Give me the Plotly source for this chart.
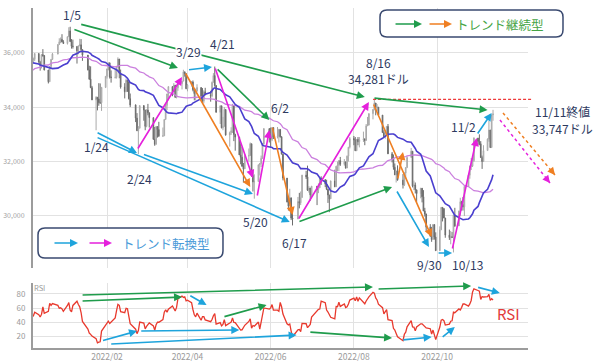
import pandas as pd
import plotly.graph_objects as go
from plotly.subplots import make_subplots

# ---------------------------------------------------------------------------
# NYダウ 日足（2021/9末〜2022/11/11）
# ---------------------------------------------------------------------------
HOLIDAYS = ["2021-11-25", "2021-12-24", "2022-01-17", "2022-02-21", "2022-04-15",
            "2022-05-30", "2022-06-20", "2022-07-04", "2022-09-05"]

# closes only (used to warm up the moving averages / RSI)
close_2021_09 = [34869, 34299, 34390, 33844]
close_2021_10 = [34326, 34002, 34315, 34417, 34755, 34746, 34497, 34378, 34377, 34912, 35295,
                 35259, 35458, 35609, 35603, 35677, 35741, 35757, 35491, 35731, 35820]
close_2021_11 = [35913, 36053, 36158, 36124, 36328, 36432, 36320, 36080, 35921, 36100, 36087,
                 36142, 35931, 35871, 35602, 35619, 35814, 35805, 34899, 35136, 34484]

close_2021_12 = [34022, 34640, 34580, 35227, 35719, 35754, 35754, 35971, 35650, 35544, 35927,
                 35898, 35365, 34932, 35492, 35754, 35950, 36302, 36398, 36488, 36398, 36338]
high_2021_12 = [35200, 34700, 34900, 35250, 35750, 35800, 35820, 35980, 35960, 35700, 35950,
                36130, 35820, 35300, 35500, 35760, 35990, 36310, 36530, 36560, 36680, 36460]
low_2021_12 = [34000, 33950, 34230, 34550, 35230, 35600, 35650, 35690, 35640, 35340, 35420,
               35850, 35350, 34870, 34950, 35440, 35740, 35940, 36280, 36350, 36380, 36320]

close_2022_01 = [36585, 36799, 36407, 36236, 36231, 36068, 36252, 36290, 36113, 35912,
                 35368, 35029, 34715, 34265, 34364, 34297, 34168, 34160, 34725, 35131]
high_2022_01 = [36600, 36934, 36952, 36500, 36480, 36180, 36260, 36510, 36500, 36000,
                35800, 35520, 35500, 34780, 34400, 34350, 34880, 34870, 34740, 35140]
low_2022_01 = [36300, 36590, 36400, 36150, 36150, 35600, 35940, 36240, 36050, 35700,
               35350, 35000, 34700, 34260, 33150, 33880, 34050, 34120, 33860, 34700]

close_2022_02 = [35405, 35629, 35111, 35089, 35091, 35463, 35768, 35241, 34738, 34566,
                 34988, 34934, 34312, 34079, 33596, 33131, 33223, 34058, 33892]
high_2022_02 = [35410, 35630, 35500, 35350, 35370, 35500, 35830, 35650, 35380, 34880,
                35050, 34940, 34800, 34500, 34100, 33780, 33300, 34060, 34000]
low_2022_02 = [35050, 35350, 35050, 34900, 35050, 35050, 35590, 35060, 34680, 34320,
               34640, 34560, 34280, 34000, 33450, 33120, 32272, 33270, 33500]

close_2022_03 = [33294, 33891, 33794, 33614, 32817, 32632, 33286, 33174, 32944, 32945, 33544,
                 34063, 34481, 34754, 34552, 34807, 34358, 34707, 34861, 34955, 35294, 35228, 34678]
high_2022_03 = [33900, 33920, 34120, 33700, 33620, 33270, 33300, 33260, 33460, 33250, 33560,
                34110, 34490, 34760, 34760, 34880, 34730, 34710, 34880, 34960, 35372, 35310, 35240]
low_2022_03 = [33150, 33260, 33700, 33250, 32800, 32578, 32840, 32880, 32900, 32900, 33000,
               33560, 33890, 34250, 34400, 34560, 34350, 34320, 34600, 34650, 35000, 35120, 34660]

close_2022_04 = [34818, 34921, 34641, 34496, 34583, 34721, 34308, 34220, 34564, 34451,
                 34412, 34911, 35160, 34793, 33811, 34049, 33240, 33301, 33916, 32977]
high_2022_04 = [34850, 34960, 34980, 34590, 34680, 34840, 34700, 34700, 34620, 34710,
                34600, 34940, 35250, 35492, 34800, 34060, 33950, 33640, 34000, 33800]
low_2022_04 = [34580, 34750, 34580, 34250, 34250, 34580, 34260, 34150, 34140, 34440,
               34200, 34360, 34970, 34750, 33800, 33380, 33220, 33150, 33280, 32950]

close_2022_05 = [33061, 33128, 34061, 32997, 32899, 32245, 32160, 31834, 31730, 32197, 32223,
                 32655, 31490, 31253, 31262, 31880, 31928, 32120, 32637, 33213, 32990]
high_2022_05 = [33100, 33260, 34120, 33950, 33020, 32850, 32670, 32540, 31950, 32280, 32480,
                32700, 32540, 31640, 31530, 31890, 31950, 32220, 32680, 33215, 33160]
low_2022_05 = [32550, 32980, 33050, 32750, 32400, 32240, 31900, 31800, 31230, 31800, 32000,
               32400, 31440, 30900, 30636, 31300, 31490, 31800, 32100, 32650, 32700]

close_2022_06 = [32813, 33248, 32900, 32916, 33180, 32910, 32272, 31393, 30517, 30365, 30668,
                 29927, 29888, 30530, 30483, 30677, 31500, 31438, 30947, 31029, 30775]
high_2022_06 = [33250, 33250, 33140, 33270, 33200, 33190, 32930, 32200, 31100, 30700, 31000,
                30300, 30140, 30700, 30850, 30900, 31510, 31660, 31850, 31100, 30950]
low_2022_06 = [32500, 32750, 32830, 32850, 32700, 32880, 32270, 31310, 30500, 30200, 30380,
               29850, 29653, 30140, 30280, 30400, 30740, 31360, 30920, 30860, 30560]

close_2022_07 = [31097, 30968, 31037, 31385, 31338, 31174, 30982, 30773, 30630, 31288,
                 31073, 31827, 31875, 32036, 31899, 31990, 31762, 32198, 32529, 32845]
high_2022_07 = [31100, 31100, 31200, 31420, 31460, 31270, 31330, 30900, 30700, 31300,
                31700, 31830, 32000, 32040, 32170, 32090, 31990, 32220, 32530, 32900]
low_2022_07 = [30700, 30400, 30840, 31030, 31140, 31060, 30950, 30480, 30140, 30770,
               31060, 31230, 31650, 31650, 31840, 31850, 31740, 31800, 32000, 32480]

close_2022_08 = [32798, 32397, 32813, 32727, 32803, 32833, 32775, 33310, 33337, 33761, 33913, 34152,
                 33981, 33999, 33707, 33064, 32910, 32970, 33292, 32283, 32099, 31791, 31510]
high_2022_08 = [32940, 32900, 32830, 32900, 32900, 33100, 32850, 33380, 33640, 33770, 33920, 34281,
                34050, 34110, 33950, 33600, 33150, 33150, 33300, 33380, 32350, 32260, 31930]
low_2022_08 = [32600, 32390, 32390, 32600, 32520, 32720, 32600, 33040, 33320, 33380, 33550, 33880,
               33700, 33860, 33660, 33060, 32890, 32840, 32980, 32280, 31970, 31700, 31510]

close_2022_09 = [31656, 31318, 31145, 31581, 31775, 32152, 32381, 31105, 31135, 30962, 30822,
                 31020, 30706, 30184, 30077, 29590, 29260, 29135, 29684, 29226, 28726]
high_2022_09 = [31660, 31860, 31540, 31600, 31800, 32190, 32500, 31910, 31300, 31230, 30900,
                31030, 30900, 30950, 30300, 29950, 29700, 29600, 29700, 29630, 29400]
low_2022_09 = [31230, 31300, 31010, 31100, 31380, 31800, 32150, 31050, 30950, 30830, 30500,
               30650, 30500, 30180, 29980, 29440, 29240, 29050, 29150, 29130, 28715]

close_2022_10 = [29490, 30317, 30274, 29927, 29297, 29203, 29239, 29211, 30039, 29635, 30186,
                 30524, 30424, 30334, 31083, 31500, 31837, 31839, 32034, 32862, 32733]
high_2022_10 = [29620, 30320, 30300, 30200, 29800, 29500, 29450, 29410, 30040, 30300, 30190,
                30670, 30560, 30700, 31120, 31510, 31840, 32130, 32190, 32890, 32870]
low_2022_10 = [28900, 29700, 29800, 29920, 29200, 29120, 28960, 29200, 28661, 29600, 29730,
               30010, 30200, 30200, 30000, 31080, 31370, 31690, 31800, 31990, 32600]

close_2022_11 = [32653, 32148, 32001, 32403, 32827, 33160, 32514, 33716, 33747]
high_2022_11 = [33000, 32750, 32220, 32600, 32850, 33500, 33100, 33720, 33900]
low_2022_11 = [32600, 32140, 31730, 32000, 32420, 32730, 32500, 32790, 33500]

HIGHLIGHT_PRICE = 34281      # 8/16 高値
LAST_CLOSE = 33747           # 11/11 終値

MONTH_TICKS = ["2022-02-01", "2022-04-01", "2022-06-01", "2022-08-01", "2022-10-01"]
X_RANGE = ["2021-12-08 18:00", "2022-12-06 15:30"]
Y_RANGE = [28089, 37642]
RSI_RANGE = [2.9, 95.7]


def sessions(start, end):
    return pd.bdate_range(start, end, freq="C", holidays=HOLIDAYS)


warmup = [
    ("2021-09-27", "2021-09-30", close_2021_09),
    ("2021-10-01", "2021-10-31", close_2021_10),
    ("2021-11-01", "2021-11-30", close_2021_11),
]
months = [
    ("2021-12-01", "2021-12-31", close_2021_12, high_2021_12, low_2021_12),
    ("2022-01-01", "2022-01-31", close_2022_01, high_2022_01, low_2022_01),
    ("2022-02-01", "2022-02-28", close_2022_02, high_2022_02, low_2022_02),
    ("2022-03-01", "2022-03-31", close_2022_03, high_2022_03, low_2022_03),
    ("2022-04-01", "2022-04-30", close_2022_04, high_2022_04, low_2022_04),
    ("2022-05-01", "2022-05-31", close_2022_05, high_2022_05, low_2022_05),
    ("2022-06-01", "2022-06-30", close_2022_06, high_2022_06, low_2022_06),
    ("2022-07-01", "2022-07-31", close_2022_07, high_2022_07, low_2022_07),
    ("2022-08-01", "2022-08-31", close_2022_08, high_2022_08, low_2022_08),
    ("2022-09-01", "2022-09-30", close_2022_09, high_2022_09, low_2022_09),
    ("2022-10-01", "2022-10-31", close_2022_10, high_2022_10, low_2022_10),
    ("2022-11-01", "2022-11-11", close_2022_11, high_2022_11, low_2022_11),
]

all_dates, all_close = [], []
for start, end, c in warmup:
    d = sessions(start, end)
    assert len(d) == len(c), (start, len(d), len(c))
    all_dates += list(d)
    all_close += c
n_warm = len(all_close)

cd_high, cd_low = [], []
for start, end, c, h, l in months:
    d = sessions(start, end)
    assert len(d) == len(c) == len(h) == len(l), (start, len(d), len(c), len(h), len(l))
    all_dates += list(d)
    all_close += c
    cd_high += h
    cd_low += l

closes = pd.Series(all_close, index=pd.DatetimeIndex(all_dates), dtype=float)
opens = closes.shift(1)

# candles from December 2021 on (open = previous session's close)
c_close = closes.iloc[n_warm:]
c_open = opens.iloc[n_warm:]
c_high = pd.Series(cd_high, index=c_close.index).combine(c_open, max).combine(c_close, max)
c_low = pd.Series(cd_low, index=c_close.index).combine(c_open, min).combine(c_close, min)

ma25 = closes.rolling(25).mean().iloc[n_warm:]
ma50 = closes.rolling(50).mean().iloc[n_warm:]

diff = closes.diff()
gain = diff.clip(lower=0).rolling(14).sum()
loss = (-diff).clip(lower=0).rolling(14).sum()
rsi = (100 * gain / (gain + loss)).iloc[n_warm:]

# ---------------------------------------------------------------------------
GREEN = "#1f9c4c"
ORANGE = "#ef7f22"
CYAN = "#1ea4dc"
MAGENTA = "#e520dc"
NAVY = "#2e3a5f"
GRID = "#e2e2e2"
AXIS = "#9c9c9c"
FONT = "Noto Sans CJK JP, Noto Sans, sans-serif"

fig = make_subplots(rows=2, cols=1, shared_xaxes=True)

fig.add_trace(go.Candlestick(
    x=c_close.index, open=c_open, high=c_high, low=c_low, close=c_close,
    increasing=dict(line=dict(color="#a9a9a9", width=1), fillcolor="#dcdcdc"),
    decreasing=dict(line=dict(color="#6c6c6c", width=1), fillcolor="#6c6c6c"),
    whiskerwidth=0, showlegend=False, hoverinfo="skip"), row=1, col=1)
fig.add_trace(go.Scatter(x=ma50.index, y=ma50, mode="lines",
                         line=dict(color="#cb80de", width=1.3), hoverinfo="skip"), row=1, col=1)
fig.add_trace(go.Scatter(x=ma25.index, y=ma25, mode="lines",
                         line=dict(color="#4a3fcf", width=1.6), hoverinfo="skip"), row=1, col=1)
fig.add_trace(go.Scatter(x=rsi.index, y=rsi, mode="lines",
                         line=dict(color="#e8392d", width=1.3), hoverinfo="skip"), row=2, col=1)

# --- arrows on the price panel: (tail date, tail price, head date, head price, colour)
price_arrows = [
    ("2022-01-12", 37054, "2022-08-09", 34372, GREEN),
    ("2022-01-07", 36871, "2022-03-25", 35438, GREEN),
    ("2022-04-22", 35438, "2022-05-31", 33527, GREEN),
    ("2022-06-21", 29780, "2022-08-29", 31066, GREEN),
    ("2022-08-15", 34336, "2022-11-07", 33895, GREEN),
    ("2022-03-30", 35291, "2022-05-17", 31066, ORANGE),
    ("2022-06-02", 33300, "2022-06-17", 30037, ORANGE),
    ("2022-08-15", 34152, "2022-09-27", 29229, ORANGE),
    ("2022-09-02", 31323, "2022-09-06", 32352, ORANGE),
    ("2022-01-24", 33087, "2022-02-23", 32315, CYAN),
    ("2022-01-24", 32903, "2022-06-15", 29780, CYAN),
    ("2022-02-27", 32278, "2022-05-19", 30809, CYAN),
    ("2022-04-01", 35364, "2022-04-19", 35475, CYAN),
    ("2022-09-01", 30955, "2022-09-25", 28861, CYAN),
    ("2022-10-01", 28640, "2022-10-12", 28640, CYAN),
    ("2022-10-30", 32976, "2022-11-10", 33785, CYAN),
    ("2022-02-23", 32425, "2022-03-28", 35107, MAGENTA),
    ("2022-04-21", 35475, "2022-05-19", 31396, MAGENTA),
    ("2022-05-22", 30698, "2022-05-31", 33160, MAGENTA),
    ("2022-06-21", 29853, "2022-08-12", 34189, MAGENTA),
    ("2022-10-12", 28751, "2022-10-30", 32866, MAGENTA),
]

# --- arrows on the RSI panel
rsi_arrows = [
    ("2022-01-13", 70.0, "2022-03-28", 75.7, GREEN),
    ("2022-01-13", 78.6, "2022-08-15", 90.0, GREEN),
    ("2022-04-27", 47.1, "2022-05-29", 64.3, GREEN),
    ("2022-06-29", 25.7, "2022-08-29", 17.1, GREEN),
    ("2022-08-18", 87.1, "2022-10-26", 91.4, GREEN),
    ("2022-01-28", 12.9, "2022-02-23", 27.1, CYAN),
    ("2022-02-03", 8.6, "2022-06-20", 21.4, CYAN),
    ("2022-02-25", 27.1, "2022-05-09", 28.6, CYAN),
    ("2022-04-02", 78.6, "2022-04-15", 64.3, CYAN),
    ("2022-09-05", 14.3, "2022-09-27", 18.6, CYAN),
    ("2022-10-04", 17.1, "2022-10-14", 32.9, CYAN),
    ("2022-10-30", 90.0, "2022-11-16", 81.4, CYAN),
]

# --- projected (dotted) moves after 11/11: (x0, price0, x1, price1) in paper-x
projections = [
    (0.9495, 33785, 1.0545, 31506, ORANGE, -5.7, -6.9),
    (0.9434, 33527, 1.0444, 31213, MAGENTA, -5.6, -7.0),
]

# --- date / price labels on the price panel
price_labels = [
    ("1/5", "2022-01-06", 37385, False),
    ("1/24", "2022-01-24", 32546, False),
    ("2/24", "2022-02-25", 31385, False),
    ("3/29", "2022-04-01 10:00", 36026, True),
    ("4/21", "2022-04-27", 36346, False),
    ("5/20", "2022-05-21", 29791, False),
    ("6/2", "2022-06-07 19:00", 33968, False),
    ("6/17", "2022-06-18 19:00", 29019, False),
    ("8/16", "2022-08-18 17:00", 35658, False),
    (f"{HIGHLIGHT_PRICE:,}ドル", "2022-08-18 17:00", 35034, False),
    ("9/30", "2022-09-25 10:00", 28200, False),
    ("10/13", "2022-10-23 07:00", 28200, False),
    ("11/2", "2022-10-20", 33270, False),
]


def arrow(x0, y0, x1, y1, color, xref, yref, width=1.6):
    return dict(x=x1, y=y1, ax=x0, ay=y0, xref=xref, yref=yref, axref=xref, ayref=yref,
                text="", showarrow=True, arrowhead=2, arrowsize=1, arrowwidth=width,
                arrowcolor=color, standoff=0)


def rounded_rect(x0, y0, x1, y1, rx, ry):
    return (f"M{x0 + rx},{y0} L{x1 - rx},{y0} Q{x1},{y0} {x1},{y0 + ry} "
            f"L{x1},{y1 - ry} Q{x1},{y1} {x1 - rx},{y1} L{x0 + rx},{y1} "
            f"Q{x0},{y1} {x0},{y1 - ry} L{x0},{y0 + ry} Q{x0},{y0} {x0 + rx},{y0} Z")


def label(text, x, y, xref, yref, size, color, bg=None):
    return dict(x=x, y=y, xref=xref, yref=yref, text=text, showarrow=False,
                xanchor="center", yanchor="middle", bgcolor=bg, borderpad=0,
                font=dict(family=FONT, size=size, color=color))


annotations = []
for x0, y0, x1, y1, col in price_arrows:
    annotations.append(arrow(x0, y0, x1, y1, col, "x", "y"))
for x0, y0, x1, y1, col in rsi_arrows:
    annotations.append(arrow(x0, y0, x1, y1, col, "x2", "y2"))

shapes = []
for x0, y0, x1, y1, col, hx, hy in projections:
    shapes.append(dict(type="line", xref="paper", yref="y", x0=x0, y0=y0, x1=x1, y1=y1,
                       line=dict(color=col, width=1.5, dash="dot"), layer="above"))
    annotations.append(dict(x=x1, y=y1, xref="paper", yref="y", ax=hx, ay=hy,
                            text="", showarrow=True, arrowhead=2, arrowsize=1,
                            arrowwidth=1.5, arrowcolor=col, standoff=0))

# 8/16 high as a red dashed reference line
shapes.append(dict(type="line", xref="paper", yref="y", x0=0.687, x1=1.010,
                   y0=HIGHLIGHT_PRICE, y1=HIGHLIGHT_PRICE,
                   line=dict(color="#ee3a3a", width=1.2, dash="3px,2px"), layer="above"))

# legend boxes
shapes.append(dict(type="path", xref="paper", yref="paper",
                   path=rounded_rect(0.7010, 0.9147, 1.0707, 0.9941, 0.0141, 0.0206),
                   line=dict(color="#3a4a70", width=1.5), fillcolor="white", layer="above"))
shapes.append(dict(type="path", xref="paper", yref="paper",
                   path=rounded_rect(0.0101, 0.2647, 0.3838, 0.3529, 0.0141, 0.0206),
                   line=dict(color="#3a4a70", width=1.5), fillcolor="white", layer="above"))

legend_arrows = [
    (0.7859, 0.9529, -28, GREEN),
    (0.8465, 0.9529, -24, ORANGE),
    (0.0909, 0.3088, -25, CYAN),
    (0.1596, 0.3088, -24, MAGENTA),
]
for x, y, dx, col in legend_arrows:
    annotations.append(dict(x=x, y=y, xref="paper", yref="paper", ax=dx, ay=0, text="",
                            showarrow=True, arrowhead=2, arrowsize=1, arrowwidth=1.6,
                            arrowcolor=col, standoff=0))
annotations.append(label("トレンド継続型", 0.9434, 0.9529, "paper", "paper", 12.5, "#45a445"))
annotations.append(label("トレンド転換型", 0.2687, 0.3088, "paper", "paper", 12.5, "#4a9ad8"))

for txt, x, y, bg in price_labels:
    annotations.append(label(txt, x, y, "x", "y", 12, NAVY, "white" if bg else None))

annotations.append(label("11/11終値", 1.0707, 33822, "paper", "y", 12, NAVY))
annotations.append(label(f"{LAST_CLOSE:,}ドル", 1.0707, 33197, "paper", "y", 12, NAVY))

annotations.append(label("RSI", 0.9616, 0.1029, "paper", "paper", 15, "#e23a3a"))
annotations.append(label("RSI", 0.0141, 0.179, "paper", "paper", 7.5, "#9a9a9a"))

axis_common = dict(automargin=False, zeroline=False, showgrid=True, gridcolor=GRID, gridwidth=1)

fig.update_layout(
    width=600, height=361,
    margin=dict(l=33, r=72, t=8, b=13),
    paper_bgcolor="white", plot_bgcolor="white",
    showlegend=False,
    font=dict(family=FONT),
    xaxis=dict(range=X_RANGE, tickvals=MONTH_TICKS, showticklabels=False, showline=False,
               rangeslider=dict(visible=False), **axis_common),
    xaxis2=dict(range=X_RANGE, tickvals=MONTH_TICKS, tickformat="%Y/%m", showline=True,
                linecolor=AXIS, linewidth=2, ticks="", tickfont=dict(size=8.5, color="#9a9a9a"),
                rangeslider=dict(visible=False), **axis_common),
    yaxis=dict(domain=[0.2353, 1.0], range=Y_RANGE, tickvals=[30000, 32000, 34000, 36000],
               tickformat=",d", showline=True, linecolor=AXIS, linewidth=2, ticks="",
               ticklabelstandoff=5, tickfont=dict(size=7, color="#a3a3a3"), **axis_common),
    yaxis2=dict(domain=[0.0, 0.1912], range=RSI_RANGE, tickvals=[20, 40, 60, 80],
                showline=True, linecolor=AXIS, linewidth=2, ticks="", ticklabelstandoff=4,
                tickfont=dict(size=8, color="#9a9a9a"), **axis_common),
    shapes=shapes,
    annotations=annotations,
)

fig.write_html("out.html")
